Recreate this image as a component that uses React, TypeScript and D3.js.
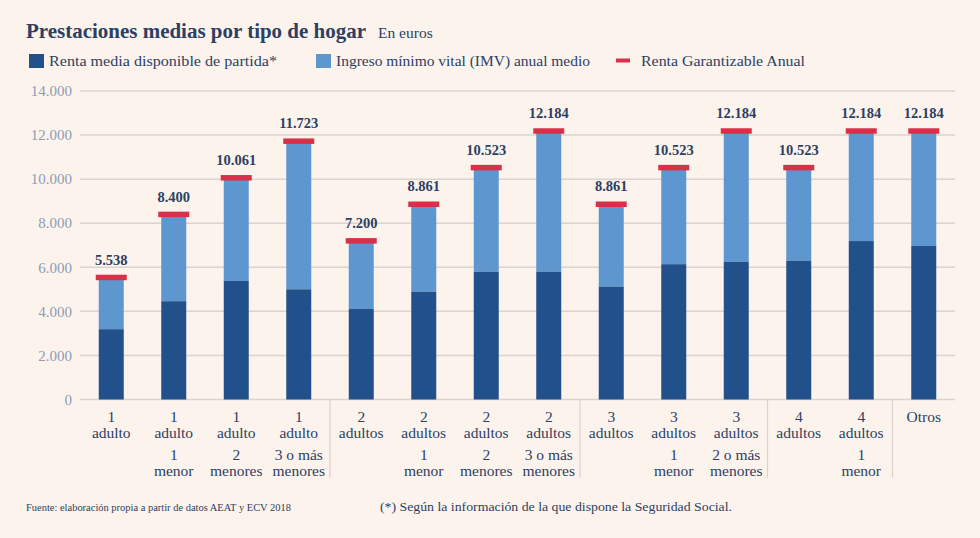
import React from "react";
import * as d3 from "d3";

const categories = [
  ["1", "adulto", "", ""],
  ["1", "adulto", "1", "menor"],
  ["1", "adulto", "2", "menores"],
  ["1", "adulto", "3 o más", "menores"],
  ["2", "adultos", "", ""],
  ["2", "adultos", "1", "menor"],
  ["2", "adultos", "2", "menores"],
  ["2", "adultos", "3 o más", "menores"],
  ["3", "adultos", "", ""],
  ["3", "adultos", "1", "menor"],
  ["3", "adultos", "2 o más", "menores"],
  ["4", "adultos", "", ""],
  ["4", "adultos", "1", "menor"],
  ["Otros", "", "", ""],
];
const rentaMedia = [3190, 4460, 5380, 5000, 4110, 4890, 5800, 5800, 5120, 6140, 6250, 6300, 7190, 6970];
const imv = [2348, 3940, 4681, 6723, 3090, 3971, 4723, 6384, 3741, 4383, 5934, 4223, 4994, 5214];
const rentaGarantizable = [5538, 8400, 10061, 11723, 7200, 8861, 10523, 12184, 8861, 10523, 12184, 10523, 12184, 12184];
const yTicks = [0, 2000, 4000, 6000, 8000, 10000, 12000, 14000];
const groupStarts = [4, 8, 11, 13];

const W = 980, H = 538;
const BG = "#fcf3ec";
const DARK = "#21508a";
const LIGHT = "#5e96cf";
const RED = "#d93049";
const NAVY = "#2d3f63";
const TICK = "#8e9cb6";
const GRID = "#dcd3cf";
const FONT = "'Liberation Serif', 'DejaVu Serif', serif";

const fmt = (v: number) => d3.format(",")(v).replace(/,/g, ".");

export default function App() {
  const idx = d3.range(categories.length);
  const x = d3.scaleBand<number>().domain(idx).range([80, 955]).paddingInner(0).paddingOuter(0);
  const y = d3.scaleLinear().domain([0, 14000]).range([399.5, 91]);
  const barW = 25;
  const capW = 31;
  const capH = 5.5;
  const cx = (i: number) => (x(i) as number) + x.bandwidth() / 2;

  return (
    <svg width={W} height={H} style={{ position: "absolute", left: 0, top: 0, background: BG }} fontFamily={FONT}>
      <rect x={0} y={0} width={W} height={H} fill={BG} />
      {/* Title */}
      <text x={26} y={38} fontSize={22} fontWeight="bold" fill={NAVY} textLength={340} lengthAdjust="spacingAndGlyphs">
        Prestaciones medias por tipo de hogar
      </text>
      <text x={378} y={38} fontSize={15.5} fill={NAVY}>En euros</text>

      {/* Legend */}
      <rect x={29} y={54} width={15} height={14} fill={DARK} />
      <text x={49} y={66} fontSize={15.5} fill={NAVY} textLength={228} lengthAdjust="spacingAndGlyphs">Renta media disponible de partida*</text>
      <rect x={316} y={54} width={15} height={14} fill={LIGHT} />
      <text x={336} y={66} fontSize={15.5} fill={NAVY} textLength={254} lengthAdjust="spacingAndGlyphs">Ingreso mínimo vital (IMV) anual medio</text>
      <rect x={616} y={58.5} width={14} height={4} fill={RED} />
      <text x={641} y={66} fontSize={15.5} fill={NAVY} textLength={164} lengthAdjust="spacingAndGlyphs">Renta Garantizable Anual</text>

      {/* Grid */}
      {yTicks.map((t) => (
        <g key={t}>
          <line x1={80} x2={955} y1={y(t)} y2={y(t)} stroke={GRID} strokeWidth={1.5} />
          <text x={72} y={y(t)} dy="0.35em" textAnchor="end" fontSize={15} fill={TICK}>{fmt(t)}</text>
        </g>
      ))}

      {/* Bars */}
      {idx.map((i) => {
        const total = rentaMedia[i] + imv[i];
        return (
          <g key={i}>
            <rect x={cx(i) - barW / 2} y={y(total)} width={barW} height={y(rentaMedia[i]) - y(total)} fill={LIGHT} />
            <rect x={cx(i) - barW / 2} y={y(rentaMedia[i])} width={barW} height={y(0) - y(rentaMedia[i])} fill={DARK} />
            <rect x={cx(i) - capW / 2} y={y(rentaGarantizable[i]) - capH / 2} width={capW} height={capH} fill={RED} />
            <text x={cx(i)} y={y(rentaGarantizable[i]) - capH / 2 - 10} textAnchor="middle" fontSize={14.5} fontWeight="bold" fill={NAVY}>
              {fmt(rentaGarantizable[i])}
            </text>
          </g>
        );
      })}

      {/* Group dividers */}
      {groupStarts.map((g) => (
        <line key={g} x1={x(g) as number} x2={x(g) as number} y1={400} y2={478} stroke={GRID} strokeWidth={1.2} />
      ))}

      {/* X labels */}
      {idx.map((i) => (
        <g key={"l" + i} fontSize={15.5} fill={NAVY} textAnchor="middle">
          {categories[i].map((line, k) =>
            line ? (
              <text key={k} x={cx(i)} y={[422, 438, 460, 476][k]}>{line}</text>
            ) : null
          )}
        </g>
      ))}

      {/* Footer */}
      <text x={26} y={511} fontSize={10} fill={NAVY} textLength={265} lengthAdjust="spacingAndGlyphs">
        Fuente: elaboración propia a partir de datos AEAT y ECV 2018
      </text>
      <text x={380} y={511} fontSize={13.5} fill={NAVY} textLength={352} lengthAdjust="spacingAndGlyphs">
        (*) Según la información de la que dispone la Seguridad Social.
      </text>
    </svg>
  );
}
